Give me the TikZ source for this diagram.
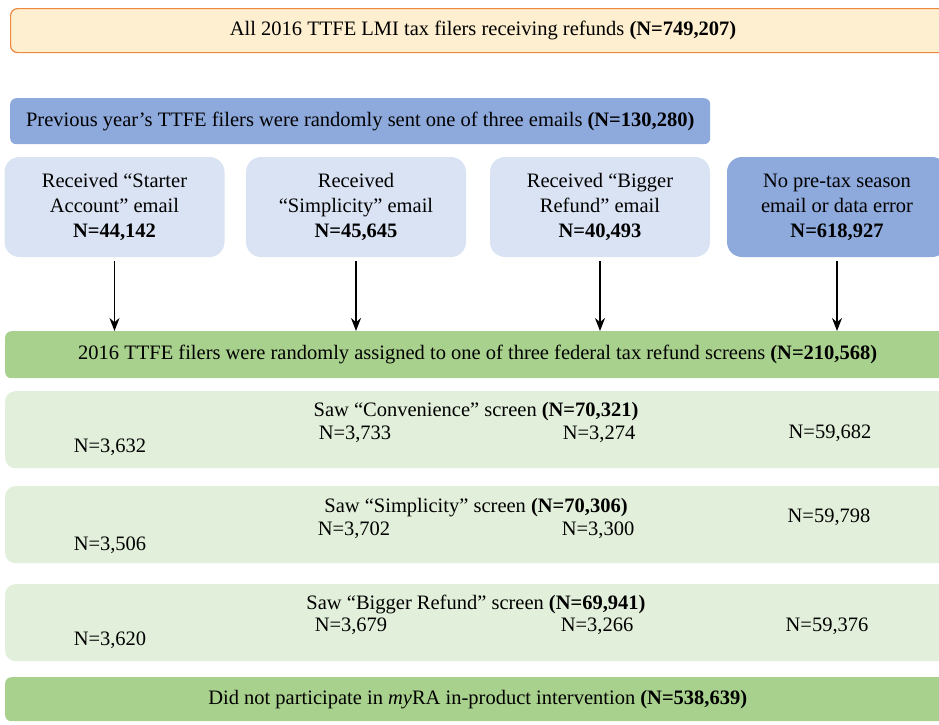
\documentclass[tikz,border=0pt]{standalone}
\usepackage{fontspec}
\setmainfont{Liberation Serif}
\usetikzlibrary{arrows.meta}
\definecolor{topfill}{HTML}{FDEFCF}
\definecolor{topline}{HTML}{F0883C}
\definecolor{bluemid}{HTML}{8EA9DB}
\definecolor{bluelight}{HTML}{DAE3F3}
\definecolor{greenmid}{HTML}{A9D18E}
\definecolor{greenlight}{HTML}{E2EFDA}
\tikzset{
  allbox/.style={draw=topline,line width=1.2pt,fill=topfill,rounded corners=7pt,anchor=north west,minimum width=945,minimum height=44,inner sep=0},
  bluebar/.style={fill=bluemid,rounded corners=6pt,anchor=north west,minimum height=46,inner sep=0},
  mailbox/.style={fill=bluelight,rounded corners=15pt,minimum width=220,minimum height=100,align=center,inner sep=0},
  greenbar/.style={fill=greenmid,rounded corners=6pt,anchor=north west,minimum width=945,minimum height=47,inner sep=0},
  rowbox/.style={fill=greenlight,rounded corners=10pt,anchor=north west,minimum width=945,minimum height=77,inner sep=0},
  cnt/.style={inner sep=0}
}
\begin{document}
\begin{tikzpicture}[>={Stealth[length=13pt,width=10pt]},x=1pt,y=-1pt,font=\fontsize{20.5}{25}\selectfont]
		\useasboundingbox (0,0) rectangle (939,724);
		\clip (0,0) rectangle (939,724);
		\node[allbox] (all) at (10,8) {All 2016 TTFE LMI tax filers receiving refunds \textbf{(N=749,207)}};
		\node[bluebar,minimum width=700] (prev) at (10,98) {Previous year’s TTFE filers were randomly sent one of three emails \textbf{(N=130,280)}};
		\node[mailbox] (starter) at (114.5,207) {Received “Starter\\Account” email\\\textbf{N=44,142}};
		\node[mailbox] (simpl) at (356,207) {Received\\“Simplicity” email\\\textbf{N=45,645}};
		\node[mailbox] (bigger) at (600,207) {Received “Bigger\\Refund” email\\\textbf{N=40,493}};
		\node[mailbox,fill=bluemid] (noemail) at (837,207) {No pre-tax season\\email or data error\\\textbf{N=618,927}};
		\node[greenbar] (assign) at (5,331) {2016 TTFE filers were randomly assigned to one of three federal tax refund screens \textbf{(N=210,568)}};
		\node[rowbox] (conv) at (5,391) {};
		\node[rowbox] (simp) at (5,486) {};
		\node[rowbox] (refd) at (5,584) {};
		\node[greenbar,minimum height=44] (nopart) at (5,677) {Did not participate in \textit{my}RA in-product intervention \textbf{(N=538,639)}};
		\foreach \b in {starter,simpl,bigger,noemail}
			\draw[->,line width=1.5pt] ([yshift=-4pt]\b.south) -- (\b.south |- assign.north);
		% screen rows
		\node[cnt] (convt) at (476,412) {Saw “Convenience” screen \textbf{(N=70,321)}};
		\node[cnt] (conva) at (110,447) {N=3,632};
		\node[cnt] (convb) at (355,434) {N=3,733};
		\node[cnt] (convc) at (599,434) {N=3,274};
		\node[cnt] (convd) at (830,433) {N=59,682};
		\node[cnt] (simpt) at (476,508) {Saw “Simplicity” screen \textbf{(N=70,306)}};
		\node[cnt] (simpa) at (110,545) {N=3,506};
		\node[cnt] (simpb) at (354,530) {N=3,702};
		\node[cnt] (simpc) at (598,530) {N=3,300};
		\node[cnt] (simpd) at (829,517) {N=59,798};
		\node[cnt] (refdt) at (476,604) {Saw “Bigger Refund” screen \textbf{(N=69,941)}};
		\node[cnt] (refda) at (110,640) {N=3,620};
		\node[cnt] (refdb) at (351,626) {N=3,679};
		\node[cnt] (refdc) at (597,626) {N=3,266};
		\node[cnt] (refdd) at (827,626) {N=59,376};
		\end{tikzpicture}
\end{document}
